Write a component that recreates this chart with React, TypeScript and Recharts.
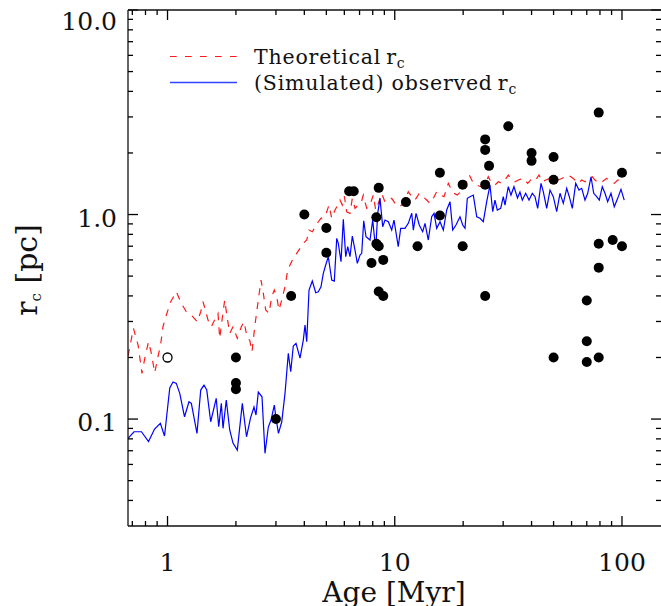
import React from 'react';
import { ComposedChart, Line, Scatter, XAxis, YAxis } from 'recharts';

// ages in Myr, core radii in pc
const AGE_THEO = [
  0.670, 0.708, 0.742, 0.772, 0.794, 0.825, 0.849, 0.878, 0.908, 0.934,
  0.955, 0.988, 1.033, 1.093, 1.150, 1.210, 1.273, 1.352, 1.400, 1.433,
  1.467, 1.507, 1.559, 1.623, 1.668, 1.697, 1.737, 1.785, 1.833, 1.878,
  1.942, 2.028, 2.113, 2.171, 2.244, 2.300, 2.354, 2.420, 2.509, 2.579,
  2.640, 2.705, 2.797, 2.874, 2.951, 3.023, 3.094, 3.181, 3.289, 3.380,
  3.460, 3.577, 3.702, 3.829, 3.959, 4.098, 4.195, 4.337, 4.457, 4.608,
  4.736, 4.933, 5.137, 5.280, 5.459, 5.610, 5.742, 5.877, 5.998, 6.146,
  6.355, 6.505, 6.685, 6.913, 7.104, 7.272, 7.527, 7.780, 8.045, 8.245,
  8.465, 8.763, 9.060, 9.696, 10.03, 10.36, 10.73, 11.09, 11.47, 11.88,
  12.28, 12.82, 13.35, 13.82, 14.29, 14.78, 15.30, 15.93, 16.47, 17.21,
  17.63, 18.23, 18.85, 19.51, 20.03, 20.59, 21.29, 22.17, 22.95, 23.89,
  24.95, 25.80, 26.71, 27.61, 28.56, 29.56, 30.56, 31.60, 32.71, 33.82,
  34.97, 36.79, 38.46, 40.30, 41.71, 43.14, 44.61, 46.17, 48.22, 50.36,
  52.45, 54.62, 57.12, 59.65, 62.13, 64.23, 66.49, 68.75, 71.09, 74.03,
  76.06, 79.21, 81.90, 85.64, 88.55, 92.49, 95.74, 99.0, 101.3,
];
const RC_THEO = [
  0.2033, 0.2777, 0.2301, 0.1673, 0.1981, 0.2388, 0.2096, 0.1684, 0.2017, 0.2345,
  0.2828, 0.3225, 0.3747, 0.4193, 0.3680, 0.3347, 0.3225, 0.2991, 0.3347, 0.3747,
  0.3412, 0.3048, 0.2828, 0.3107, 0.3287, 0.2481, 0.3048, 0.3820, 0.3107, 0.2625,
  0.2828, 0.2481, 0.2828, 0.2991, 0.2481, 0.2433, 0.2134, 0.2828, 0.3820, 0.4783,
  0.4118, 0.3412, 0.3287, 0.3963, 0.4274, 0.3963, 0.3412, 0.3820, 0.4435, 0.5354,
  0.5663, 0.6107, 0.6462, 0.6836, 0.7232, 0.7506, 0.8398, 0.8240, 0.8659, 0.9222,
  0.9581, 0.9755, 1.113, 0.9581, 1.052, 1.113, 1.177, 1.113, 1.231, 1.032,
  1.014, 1.200, 1.072, 1.113, 1.134, 1.245, 1.072, 1.113, 1.245, 1.052,
  1.134, 1.270, 1.151, 1.200, 1.134, 1.092, 1.113, 1.177, 1.293, 1.222,
  1.177, 1.270, 1.222, 1.177, 1.134, 1.200, 1.293, 1.245, 1.222, 1.421,
  1.343, 1.270, 1.245, 1.293, 1.317, 1.447, 1.560, 1.421, 1.394, 1.368,
  1.394, 1.530, 1.421, 1.394, 1.447, 1.421, 1.475, 1.560, 1.475, 1.447,
  1.475, 1.503, 1.421, 1.503, 1.475, 1.560, 1.447, 1.475, 1.503, 1.475,
  1.475, 1.503, 1.560, 1.530, 1.475, 1.421, 1.475, 1.447, 1.503, 1.530,
  1.475, 1.421, 1.447, 1.503, 1.447, 1.421, 1.475, 1.475, 1.394,
];

const AGE_SIM = [
  0.670, 0.712, 0.768, 0.825, 0.877, 0.930, 0.970, 1.023, 1.057, 1.093,
  1.132, 1.188, 1.243, 1.273, 1.348, 1.400, 1.447, 1.488, 1.549, 1.638,
  1.680, 1.725, 1.755, 1.814, 1.878, 1.942, 2.028, 2.134, 2.227, 2.318,
  2.402, 2.451, 2.509, 2.605, 2.685, 2.777, 2.854, 2.951, 3.002, 3.078,
  3.181, 3.289, 3.401, 3.485, 3.577, 3.677, 3.829, 3.959, 4.028, 4.098,
  4.195, 4.337, 4.489, 4.608, 4.736, 4.848, 4.967, 5.100, 5.280, 5.420,
  5.555, 5.645, 5.801, 5.938, 6.084, 6.209, 6.355, 6.505, 6.685, 6.843,
  7.033, 7.156, 7.302, 7.474, 7.780, 7.998, 8.245, 8.414, 8.612, 8.851,
  9.060, 9.368, 9.696, 9.924, 10.36, 10.62, 11.09, 11.47, 11.88, 12.07,
  12.41, 12.82, 13.27, 13.59, 14.05, 14.54, 14.89, 15.30, 15.82, 16.36,
  16.93, 17.51, 17.99, 18.60, 19.37, 19.91, 20.38, 20.86, 21.44, 22.17,
  22.95, 23.72, 24.53, 25.39, 26.25, 26.98, 27.61, 28.27, 29.26, 30.04,
  30.56, 31.60, 32.47, 33.47, 34.68, 35.57, 36.42, 37.69, 38.98, 40.30,
  41.42, 42.56, 44.02, 45.05, 46.63, 48.22, 49.86, 51.61, 53.36, 55.18,
  57.12, 58.64, 60.45, 62.57, 64.70, 66.49, 68.75, 70.66, 73.06, 75.09,
  77.40, 79.45, 81.90, 84.18, 86.52, 89.45, 92.49, 95.74, 99.0, 102.3,
];
const RC_SIM = [
  0.0804, 0.0867, 0.0867, 0.0776, 0.0894, 0.0953, 0.0826, 0.1418, 0.1517, 0.1495,
  0.1336, 0.1026, 0.1215, 0.1193, 0.0851, 0.1386, 0.1466, 0.1386, 0.0970, 0.1263,
  0.0917, 0.1193, 0.0901, 0.1239, 0.0884, 0.0763, 0.0705, 0.1193, 0.0819, 0.1011,
  0.1145, 0.1046, 0.1355, 0.1285, 0.0680, 0.0914, 0.0989, 0.1171, 0.1011, 0.0851,
  0.0967, 0.1336, 0.2096, 0.1703, 0.2275, 0.2345, 0.1987, 0.2433, 0.2882, 0.2388,
  0.4274, 0.4729, 0.4146, 0.4193, 0.4435, 0.5159, 0.5663, 0.6218, 0.4783, 0.4729,
  0.7646, 0.7232, 0.5877, 0.9474, 0.6218, 0.6960, 0.6218, 0.7851, 0.6706, 0.5772,
  0.6339, 0.6462, 0.9326, 0.7789, 0.7506, 0.9400, 0.6706, 1.014, 1.200, 0.8717,
  0.9400, 0.9222, 0.8398, 0.9400, 0.6960, 0.8561, 0.8561, 0.9057, 1.014, 0.8398,
  1.014, 0.8885, 0.8240, 0.9057, 0.7506, 0.9755, 1.014, 0.8561, 0.9222, 0.8398,
  1.052, 1.155, 0.8398, 0.8885, 0.9755, 0.8885, 0.8561, 1.200, 1.222, 1.245,
  0.9755, 0.9581, 0.9222, 1.155, 1.394, 1.032, 1.177, 1.052, 1.072, 1.222,
  1.113, 1.368, 1.245, 1.368, 1.204, 1.288, 1.177, 1.270, 1.177, 1.270,
  1.222, 1.072, 1.421, 1.293, 1.072, 1.317, 1.222, 1.032, 1.270, 1.134,
  1.343, 1.222, 1.072, 1.421, 1.317, 1.343, 1.177, 1.270, 1.530, 1.270,
  1.222, 1.177, 1.368, 1.270, 1.155, 1.270, 1.092, 1.200, 1.328, 1.177,
];

// observed clusters
const OBS_AGE = [
  2.0, 2.0, 2.0, 3.0, 3.5, 4.0, 5.0, 5.0, 6.3, 6.6,
  7.9, 8.3, 8.3, 8.5, 8.5, 8.5, 8.9, 8.9, 11.2, 12.6,
  15.8, 15.8, 19.9, 19.9, 25, 25, 25, 25, 26, 31.6,
  40, 40, 50, 50, 50, 70, 70, 70, 79, 79,
  79, 79, 91, 100, 100,
];
const OBS_RC = [
  0.2, 0.15, 0.14, 0.1, 0.4, 1.0, 0.86, 0.65, 1.3, 1.3,
  0.58, 0.97, 0.72, 0.70, 1.35, 0.42, 0.6, 0.40, 1.15, 0.7,
  1.6, 0.99, 1.4, 0.7, 2.33, 2.07, 1.4, 0.4, 1.73, 2.7,
  2.0, 1.83, 1.91, 1.48, 0.2, 0.38, 0.24, 0.19, 3.15, 0.72,
  0.55, 0.2, 0.75, 1.6, 0.7,
];
const OPEN_AGE = [1.0];
const OPEN_RC = [0.2];

const X_TICKS = [0.7, 0.8, 0.9, 1, 2, 3, 4, 5, 6, 7, 8, 9, 10, 20, 30, 40, 50, 60, 70, 80, 90, 100];
const X_LABELS: Record<string, string> = { '1': '1', '10': '10', '100': '100' };
const Y_TICKS = [
  0.04, 0.05, 0.06, 0.07, 0.08, 0.09, 0.1, 0.2, 0.3, 0.4, 0.5, 0.6, 0.7, 0.8, 0.9,
  1, 2, 3, 4, 5, 6, 7, 8, 9, 10,
];
const Y_LABELS: Record<string, string> = { '0.1': '0.1', '1': '1.0', '10': '10.0' };

const X_DOMAIN = [0.67, 148.5];
const Y_DOMAIN = [0.03, 10];

const W = 661;
const H = 606;
// plot box edges (chart layout)
const PLOT_LEFT = 128;
const PLOT_TOP = 10;
const PLOT_RIGHT = 661;
const INK = '#111';
const FONT = '"DejaVu Serif", serif';

const zip = (xs: number[], ys: number[]) => xs.map((x, i) => ({ x, y: ys[i] }));
const theoData = zip(AGE_THEO, RC_THEO);
const simData = zip(AGE_SIM, RC_SIM);
const obsData = zip(OBS_AGE, OBS_RC);
const openData = zip(OPEN_AGE, OPEN_RC);

const isMajor = (v: number) => [0.1, 1, 10, 100].some((m) => Math.abs(v - m) < 1e-9);

// ticks point inward, drawn on both the bottom and the top edge
const BottomTick = (props: any) => {
  const { x, y, payload } = props;
  const v = payload.value;
  const len = isMajor(v) ? 10 : 5;
  const label = X_LABELS[String(v)];
  return (
    <g>
      <line x1={x} x2={x} y1={y} y2={y - len} stroke="#000" strokeWidth={1.3} />
      <line x1={x} x2={x} y1={PLOT_TOP} y2={PLOT_TOP + len} stroke="#000" strokeWidth={1.3} />
      {label && (
        <text x={x} y={y + 45} textAnchor="middle" fontFamily={FONT} fontSize={25} fill={INK}>
          {label}
        </text>
      )}
    </g>
  );
};

// left and right edge
const LeftTick = (props: any) => {
  const { x, y, payload } = props;
  const v = payload.value;
  const len = isMajor(v) ? 10 : 5;
  const label = Y_LABELS[String(v)];
  return (
    <g>
      <line x1={x} x2={x + len} y1={y} y2={y} stroke="#000" strokeWidth={1.3} />
      <line x1={PLOT_RIGHT} x2={PLOT_RIGHT - len} y1={y} y2={y} stroke="#000" strokeWidth={1.3} />
      {label && (
        <text
          x={x - 11}
          y={y + (v === 10 ? 20 : 12)}
          textAnchor="end"
          fontFamily={FONT}
          fontSize={25}
          fill={INK}
        >
          {label}
        </text>
      )}
    </g>
  );
};

const Dot = (p: any) => <circle cx={p.cx} cy={p.cy} r={5} fill="#000" />;
const OpenDot = (p: any) => <circle cx={p.cx} cy={p.cy} r={4.5} fill="#fff" stroke="#000" strokeWidth={1.3} />;

export default function App() {
  const axisLine = { stroke: INK, strokeWidth: 1.3 };
  return (
    <div style={{ position: 'absolute', left: 0, top: 0, width: W, height: H, overflow: 'hidden', background: '#fff' }}>
      <ComposedChart width={W} height={H} margin={{ top: PLOT_TOP, right: 0, bottom: 0, left: 0 }}>
        <XAxis
          xAxisId="b"
          type="number"
          dataKey="x"
          scale="log"
          domain={X_DOMAIN}
          allowDataOverflow
          ticks={X_TICKS}
          interval={0}
          tickSize={0}
          tickMargin={0}
          tickLine={false}
          axisLine={axisLine}
          tick={(p: any) => <BottomTick {...p} />}
          height={80}
        />
        <YAxis
          yAxisId="l"
          type="number"
          dataKey="y"
          scale="log"
          domain={Y_DOMAIN}
          allowDataOverflow
          ticks={Y_TICKS}
          interval={0}
          tickSize={0}
          tickMargin={0}
          tickLine={false}
          axisLine={axisLine}
          tick={(p: any) => <LeftTick {...p} />}
          width={PLOT_LEFT}
        />
        <Line
          xAxisId="b"
          yAxisId="l"
          data={theoData}
          dataKey="y"
          type="linear"
          stroke="#ff1a1a"
          strokeWidth={1.2}
          strokeDasharray="7 7"
          dot={false}
          activeDot={false}
          isAnimationActive={false}
        />
        <Line
          xAxisId="b"
          yAxisId="l"
          data={simData}
          dataKey="y"
          type="linear"
          stroke="#0000ff"
          strokeWidth={1.2}
          dot={false}
          activeDot={false}
          isAnimationActive={false}
        />
        <Scatter xAxisId="b" yAxisId="l" data={obsData} dataKey="y" shape={Dot} isAnimationActive={false} />
        <Scatter xAxisId="b" yAxisId="l" data={openData} dataKey="y" shape={OpenDot} isAnimationActive={false} />
      </ComposedChart>
      <svg
        width={W}
        height={H}
        style={{ position: 'absolute', left: 0, top: 0, pointerEvents: 'none' }}
        fontFamily={FONT}
        fill={INK}
      >
        <line x1={PLOT_LEFT} x2={PLOT_RIGHT} y1={PLOT_TOP} y2={PLOT_TOP} stroke={INK} strokeWidth={1.3} />
        <line x1={170} x2={237} y1={56.5} y2={56.5} stroke="#ff1a1a" strokeWidth={1.2} strokeDasharray="6.7 8.3" />
        <text x={254} y={63.5} fontSize={20.5} letterSpacing={0.8}>
          Theoretical<tspan dx={5}>r</tspan>
          <tspan fontSize={14} dy={4}>c</tspan>
        </text>
        <line x1={170} x2={237} y1={82.5} y2={82.5} stroke="#3344ff" strokeWidth={1.4} />
        <text x={254} y={90} fontSize={20.5} letterSpacing={0.8}>
          (Simulated) observed<tspan dx={5}>r</tspan>
          <tspan fontSize={14} dy={4}>c</tspan>
        </text>
        <text x={394} y={602} textAnchor="middle" fontSize={28}>
          Age [Myr]
        </text>
        <text transform="translate(37,270) rotate(-90)" textAnchor="middle" fontSize={30}>
          r<tspan fontSize={15} dy={4}>c</tspan>
          <tspan dy={-4}> [pc]</tspan>
        </text>
      </svg>
    </div>
  );
}
